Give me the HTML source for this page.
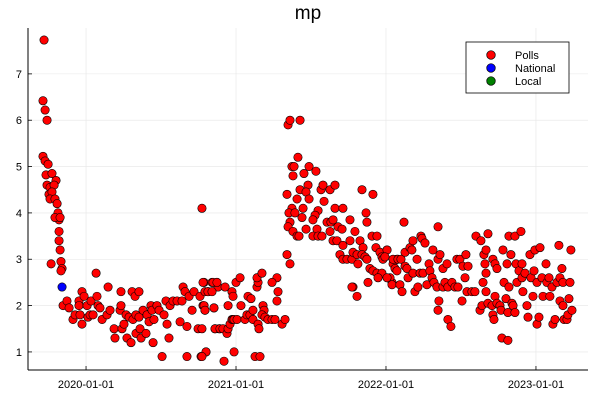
<!DOCTYPE html>
<html><head><meta charset="utf-8"><style>
html,body{margin:0;padding:0;background:#fff;}
svg{display:block;font-family:"Liberation Sans","DejaVu Sans",sans-serif;}
</style></head><body>
<svg id="chart" width="600" height="400" xmlns="http://www.w3.org/2000/svg">
<text x="308" y="19" font-size="19" text-anchor="middle">mp</text>
<g id="grid"></g><g id="axes"></g><g id="marks"></g>
<g>
<rect x="466" y="42" width="103" height="51" fill="#fff" stroke="#000" stroke-width="0.8"/>
<circle cx="491" cy="55" r="4.3" fill="#f00" stroke="#000" stroke-width="0.7"/>
<text x="515" y="59" font-size="11">Polls</text>
<circle cx="491" cy="68" r="4.3" fill="#00f" stroke="#000" stroke-width="0.7"/>
<text x="515" y="72" font-size="11">National</text>
<circle cx="491" cy="81" r="4.3" fill="#008000" stroke="#000" stroke-width="0.7"/>
<text x="515" y="85" font-size="11">Local</text>
</g>
</svg>
<script>
const yTicks = [1,2,3,4,5,6,7];
const xTickYears = [2020,2021,2022,2023];
const xTickLabels = ["2020-01-01","2021-01-01","2022-01-01","2023-01-01"];
const nationalDates = [2019.84];
const nationalValues = [2.4];
const pollDates = [
2019.72,2019.713,2019.727,2019.74,2019.713,2019.727,2019.747,2019.733,2019.773,2019.74,2019.80,2019.76,2019.787,2019.753,2019.773,2019.76,2019.793,2019.807,2019.813,2019.82,2019.793,2019.827,2019.82,2019.82,2019.827,2019.833,2019.84,2019.833,2019.767,
2019.847,2019.873,2019.887,2019.913,2019.927,2019.953,2019.953,2019.973,2019.973,2019.987,2019.96,2020.007,2020.013,2020.027,2020.033,2020.047,2020.067,2020.073,2020.08,2020.093,2020.107,2020.14,2020.147,2020.16,2020.187,2020.193,2020.227,2020.233,2020.233,2020.24,2020.253,2020.267,2020.273,2020.287,2020.3,2020.307,2020.313,2020.327,2020.333,2020.333,2020.353,2020.353,2020.36,2020.367,2020.38,2020.4,2020.407,2020.42,2020.433,2020.44,2020.447,2020.453,2020.473,2020.487,2020.507,2020.52,2020.533,2020.54,2020.553,2020.56,2020.58,2020.607,2020.627,2020.64,2020.647,2020.66,2020.673,2020.673,2020.687,2020.707,2020.72,2020.747,2020.76,2020.767,2020.773,2020.78,2020.787,2020.793,2020.8,2020.813,2020.84,2020.853,2020.86,2020.873,2020.88,2020.887,
2020.78,2020.793,2020.813,2020.84,2020.847,2020.873,2020.787,2020.793,2020.853,2020.773,2020.8,2020.773,2020.86,2020.893,2020.913,2020.94,2020.947,2020.96,2020.927,2020.947,2020.973,2020.98,2020.973,2020.98,2020.987,2021.007,2021.0,2021.027,2021.033,2020.92,2020.987,2021.06,2021.073,2021.093,2021.08,2021.1,2021.113,2021.113,2021.127,2021.16,2021.14,2021.147,2021.14,2021.173,2021.147,2021.153,2021.18,2021.187,2021.173,2021.193,2021.213,2021.24,2021.26,2021.273,2021.24,2021.28,2021.273,2021.307,2021.327,2021.34,2021.36,2021.34,2021.347,2021.36,2021.427,2021.413,2021.373,2021.387,2021.38,2021.453,2021.487,2021.533,2021.427,2021.407,2021.48,2021.467,2021.487,2021.447,2021.373,2021.353,2021.393,2021.36,2021.347,2021.44,2021.38,2021.407,2021.42,2021.467,2021.567,2021.58,2021.627,2021.66,2021.587,2021.547,2021.527,2021.513,2021.54,2021.513,2021.547,2021.573,2021.607,2021.633,2021.647,2021.66,2021.713,2021.627,2021.647,2021.68,2021.673,2021.707,2021.713,2021.693,2021.713,2021.74,2021.76,2021.793,2021.773,2021.78,2021.807,2021.76,2021.84,2021.867,2021.873,2021.827,2021.847,2021.84,2021.86,2021.813,2021.873,2021.78,2021.807,2021.773,2021.913,2021.907,2021.94,2021.933,2021.96,2021.973,2021.98,2022.007,2021.893,2021.913,2021.94,2021.973,2021.88,2021.947,2022.04,2022.027,2022.047,2022.073,
2022.007,2021.993,2022.007,2022.04,2022.047,2022.06,2022.073,2022.08,2022.1,2022.093,2022.107,2022.12,2022.127,2022.127,2022.14,2022.147,2022.16,2022.173,2022.18,2022.18,2022.193,2022.207,2022.213,2022.227,2022.233,2022.24,2022.26,2022.247,2022.273,2022.287,2022.293,2022.307,2022.313,2022.32,2022.34,2022.347,2022.347,2022.353,2022.347,2022.36,2022.38,2022.38,2022.393,2022.407,2022.413,2022.413,2022.433,2022.44,2022.46,2022.473,2022.493,2022.48,2022.507,2022.513,2022.527,2022.533,2022.547,2022.54,2022.573,2022.593,2022.6,2022.633,2022.653,2022.667,2022.68,2022.66,2022.667,2022.647,2022.667,2022.627,2022.64,2022.68,2022.707,2022.713,2022.727,2022.74,2022.727,2022.74,2022.713,2022.72,2022.76,2022.767,2022.773,2022.813,2022.78,2022.787,2022.807,2022.8,2022.813,2022.82,2022.82,2022.833,2022.84,2022.847,2022.86,2022.86,2022.867,2022.873,2022.887,2022.9,2022.907,2022.907,2022.913,2022.927,2022.94,2022.947,2022.96,2022.967,2022.98,2022.987,2022.993,2023.007,2023.007,2023.027,2023.02,2023.04,2023.047,2023.067,2023.073,2023.087,2023.093,2023.107,2023.113,2023.127,2023.14,2023.153,2023.16,2023.173,2023.18,2023.16,2023.18,2023.187,2023.207,2023.213,2023.22,2023.227,2023.233,2023.24
];
const pollValues = [
7.73,6.42,6.22,6.0,5.22,5.12,5.05,4.82,4.85,4.6,4.7,4.55,4.6,4.4,4.45,4.3,4.3,4.2,4.0,3.85,3.9,3.9,3.6,3.4,3.2,2.95,2.8,2.75,2.9,
2.0,2.1,1.95,1.7,1.8,2.1,2.0,2.3,1.6,2.2,1.8,2.0,1.75,1.8,2.1,1.8,2.7,2.2,2.0,1.95,1.7,1.8,2.4,1.9,1.5,1.3,1.9,2.3,2.0,1.5,1.6,1.8,1.3,1.75,1.2,2.3,1.7,2.2,1.8,1.4,1.75,2.3,1.5,1.3,1.9,1.4,1.8,1.65,2.0,1.9,1.2,1.7,2.0,1.9,0.9,1.8,2.1,1.6,1.3,2.0,2.1,2.1,1.65,2.1,2.4,2.3,0.9,1.55,2.2,1.9,2.3,1.5,2.2,0.9,4.1,2.0,2.5,1.9,1.0,2.3,2.5,1.95,1.5,2.5,2.4,1.5,
2.5,2.3,2.3,2.3,2.5,2.5,2.0,1.9,1.95,1.5,1.0,0.9,1.5,1.5,1.5,1.4,1.5,1.6,2.4,2.0,2.3,2.2,1.7,1.7,1.7,1.7,2.5,2.6,2.0,0.8,1.0,1.7,1.8,1.8,2.2,2.15,1.9,1.7,0.9,0.9,2.4,2.5,2.6,2.7,1.6,1.5,2.0,1.9,1.8,1.75,1.7,1.7,1.7,2.6,2.5,2.3,2.1,1.6,1.7,3.1,2.9,4.4,5.9,6.0,6.0,5.2,5.0,5.0,4.8,4.85,5.0,4.9,4.5,4.3,4.6,4.45,4.3,4.1,4.1,4.0,4.0,3.8,3.7,3.9,3.6,3.5,3.5,3.65,4.5,4.6,4.5,4.6,4.25,4.05,3.95,3.85,3.65,3.5,3.5,3.5,3.8,3.8,3.85,4.1,4.1,3.6,3.4,3.7,3.4,3.65,3.3,3.1,3.0,3.0,3.85,3.6,3.0,3.15,3.1,3.4,4.5,4.0,3.8,3.4,3.25,3.1,3.05,2.9,3.0,2.4,2.2,2.4,4.4,3.5,3.5,3.25,3.15,3.05,3.0,3.2,2.8,2.75,2.7,2.7,2.5,2.6,2.5,2.6,2.9,3.0,
3.2,3.05,2.6,2.45,3.0,2.8,2.75,3.0,3.0,2.45,2.3,3.8,3.15,2.85,2.8,2.6,3.25,3.2,3.4,2.7,2.3,3.0,2.4,2.7,3.5,3.45,3.35,2.7,2.45,2.9,2.75,2.6,3.2,2.5,2.4,3.7,3.0,2.1,1.9,3.1,2.4,2.8,2.5,2.9,2.4,1.7,1.55,2.5,2.4,3.0,3.0,2.4,2.1,2.85,2.6,3.1,2.85,2.3,2.3,2.3,3.5,3.4,3.1,3.2,3.55,2.9,2.7,2.5,2.3,1.9,2.0,2.05,2.0,3.0,2.9,2.8,2.2,2.05,1.8,1.7,2.0,1.9,1.3,1.25,3.2,2.5,2.9,2.15,1.85,3.5,2.4,3.1,2.05,2.0,1.85,3.5,2.9,2.5,2.75,3.6,2.6,2.9,2.3,2.7,2.0,1.75,3.1,2.6,2.2,2.75,3.2,2.5,1.6,3.25,1.75,2.6,2.2,2.9,2.5,2.6,2.2,2.4,1.6,1.7,2.5,3.3,2.6,2.8,2.5,2.1,2.0,1.7,1.7,1.8,2.15,2.5,3.2,1.9
];
const NS="http://www.w3.org/2000/svg";
const L=28,R=588,T=28,B=370;
const xMin=2019.613,xMax=2023.347,yMin=0.61,yMax=7.99;
const xs=t=>L+(t-xMin)/(xMax-xMin)*(R-L);
const ys=v=>B-(v-yMin)/(yMax-yMin)*(B-T);
function mk(tag,attrs,parent){const e=document.createElementNS(NS,tag);for(const k in attrs)e.setAttribute(k,attrs[k]);parent.appendChild(e);return e;}
const grid=document.getElementById('grid'),axes=document.getElementById('axes'),marks=document.getElementById('marks');
yTicks.forEach(v=>{
  const g=mk('line',{x1:L,x2:R,y1:ys(v),y2:ys(v),stroke:'#e6e6e6','stroke-width':0.6},grid);
  
  
  const tk=mk('line',{x1:L,x2:L+4,y1:ys(v),y2:ys(v),stroke:'#000','stroke-width':0.8},axes);
  
  
  const t=mk('text',{x:L-6,y:ys(v)+4,'font-size':11,'text-anchor':'end'},axes);
  t.textContent=String(v);
  
  
});
xTickYears.forEach((yr,i)=>{
  const g=mk('line',{x1:xs(yr),x2:xs(yr),y1:T,y2:B,stroke:'#e6e6e6','stroke-width':0.6},grid);
  
  
  const tk=mk('line',{x1:xs(yr),x2:xs(yr),y1:B,y2:B-4,stroke:'#000','stroke-width':0.8},axes);
  
  
  const t=mk('text',{x:xs(yr),y:B+18,'font-size':11,'text-anchor':'middle'},axes);
  t.textContent=xTickLabels[i];
  
  
});
const ax1=mk('line',{x1:L,x2:L,y1:T,y2:B,stroke:'#000','stroke-width':1},axes);


const ax2=mk('line',{x1:L,x2:R,y1:B,y2:B,stroke:'#000','stroke-width':1},axes);


const n=Math.min(pollDates.length,pollValues.length);
for(let i=0;i<n;i++){
  const c=mk('circle',{cx:xs(pollDates[i]),cy:ys(pollValues[i]),r:4.2,fill:'#f00',stroke:'#000','stroke-width':0.6},marks);
  
  
}
nationalDates.forEach((d,i)=>{
  const c=mk('circle',{cx:xs(d),cy:ys(nationalValues[i]),r:4.2,fill:'#00f',stroke:'#000','stroke-width':0.6},marks);
  
  
});
</script>
</body></html>
